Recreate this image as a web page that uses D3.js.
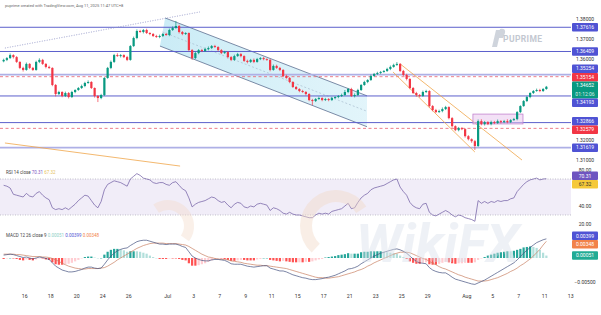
<!DOCTYPE html>
<html>
<head>
<meta charset="utf-8">
<script src="https://cdn.jsdelivr.net/npm/d3@7"></script>
<style>
  html, body { margin: 0; padding: 0; background: #fff; }
  svg { display: block; font-family: Roboto, "Liberation Sans", sans-serif; }
</style>
</head>
<body>
<div id="chart"></div>
<script>
// 6h candles, GBP/USD style, Jun 12 -> Aug 11 (4 bars per trading day)
var firstOpen = 1.3592;
var closes = [
  1.3599,1.3608,1.3623,1.3613,1.3589,1.3559,1.3549,1.3579,1.3559,1.3549,
  1.3589,1.3599,1.3579,1.3564,1.3559,1.3474,1.3429,1.3439,1.3419,1.3434,
  1.3414,1.3439,1.3449,1.3459,1.3469,1.3484,1.3489,1.3459,1.3419,1.3409,
  1.3424,1.3509,1.3559,1.3589,1.3623,1.3618,1.3623,1.3613,1.3599,1.3668,
  1.3708,1.3743,1.3738,1.3748,1.3733,1.3728,1.3718,1.3713,1.3718,1.3728,
  1.3723,1.3748,1.3758,1.3768,1.3738,1.3728,1.3733,1.3648,1.3608,1.3633,
  1.3648,1.3643,1.3653,1.3658,1.3668,1.3663,1.3648,1.3633,1.3638,1.3613,
  1.3599,1.3618,1.3628,1.3618,1.3594,1.3589,1.3599,1.3589,1.3603,1.3608,
  1.3603,1.3599,1.3549,1.3569,1.3559,1.3549,1.3519,1.3509,1.3489,1.3464,
  1.3454,1.3444,1.3439,1.3429,1.3399,1.3394,1.3404,1.3409,1.3399,1.3404,
  1.3399,1.3409,1.3414,1.3419,1.3424,1.3439,1.3454,1.3419,1.3424,1.3449,
  1.3474,1.3489,1.3499,1.3519,1.3529,1.3534,1.3539,1.3544,1.3554,1.3564,
  1.3574,1.3579,1.3544,1.3524,1.3504,1.3459,1.3434,1.3424,1.3419,1.3439,
  1.3444,1.3369,1.3349,1.3339,1.3344,1.3354,1.3364,1.3309,1.3269,1.3249,
  1.3259,1.3254,1.3219,1.3204,1.3194,1.3170,1.3294,1.3279,1.3289,1.3279,
  1.3289,1.3284,1.3294,1.3289,1.3294,1.3289,1.3299,1.3304,1.3339,1.3369,
  1.3394,1.3414,1.3434,1.3444,1.3449,1.3444,1.3454,1.34652
];
// wick lengths in pips above / below the body
var hiWick = [
  6,5,8,4,5,3,6,7,4,5, 6,8,5,4,6,3,5,6,4,7, 5,6,4,5,7,6,8,4,3,5,
  6,4,5,7,6,9,5,4,6,5, 7,8,6,5,6,4,5,6,7,5, 6,7,8,25,6,5,4,3,5,6,
  5,6,7,8,5,6,4,5,6,4, 5,7,6,5,4,6,5,7,6,5, 6,4,5,7,6,5,4,6,5,4,
  5,4,6,5,4,6,5,7,4,6, 5,6,4,5,7,10,5,6,8,6, 5,6,4,7,5,6,5,4,6,7,
  6,9,4,5,6,4,5,6,5,7, 6,4,5,6,7,8,6,4,5,4, 6,5,4,5,4,6,8,9,6,5,
  7,6,8,5,6,9,5,6,5,4, 5,6,4,5,7,6,5,4
];
var loWick = [
  5,6,4,7,5,6,8,4,6,5, 4,6,5,7,5,6,12,5,6,5, 7,5,6,4,5,6,4,5,8,20,
  6,5,4,6,5,4,7,5,6,4, 5,6,4,7,5,6,5,4,6,5, 4,6,5,4,7,6,5,6,9,5,
  6,5,4,6,5,4,6,5,4,7, 6,5,4,6,5,7,5,6,4,5, 6,5,7,4,5,6,5,4,6,5,
  5,6,4,7,6,20,5,4,6,5, 6,5,4,6,5,4,6,5,7,5, 5,4,6,5,4,5,6,4,5,6,
  4,5,6,5,7,6,5,8,6,4, 5,7,6,5,4,6,5,6,7,5, 6,5,7,6,8,20,5,6,7,5,
  6,5,4,7,5,6,5,4,6,5, 4,5,6,5,4,6,5,4
];
var rsi = [
  63,62,60,53,52,51,50,54,51,50, 54,56,52,49,47,38,36,37,36,38,
  36,39,42,46,49,52,51,46,41,38, 45,58,64,66,68,67,66,64,62,70,
  73,76,74,71,70,69,66,65,66,66, 64,63,66,67,63,59,57,49,39,42,
  44,45,46,48,50,49,46,44,45,41, 38,42,44,43,39,38,40,39,42,43,
  42,41,35,38,37,35,32,31,33,31, 30,30,29,28,27,27,30,32,31,32,
  31,34,35,36,37,40,43,37,38,44, 49,52,54,58,60,61,62,63,65,67,
  69,70,61,56,52,44,40,38,37,42, 43,33,30,29,31,33,35,33,30,28,
  30,29,27,26,25,23,46,43,45,43, 45,44,46,45,46,46,48,49,56,60,
  64,67,69,70,71,69,70,70.31
];
var macd = [
  0.0006,0.0007,0.0008,0.0007,0.0005,0.0003,0.0001,0.0002,0.0000,-0.0002,
  0.0000,0.0002,0.0001,-0.0001,-0.0003,-0.0010,-0.0017,-0.0021,-0.0025,-0.0027,
  -0.0029,-0.0029,-0.0028,-0.0026,-0.0024,-0.0021,-0.0019,-0.0019,-0.0021,-0.0022,
  -0.0021,-0.0013,-0.0004,0.0004,0.0010,0.0015,0.0018,0.0020,0.0021,0.0026,
  0.0030,0.0034,0.0036,0.0037,0.0037,0.0035,0.0033,0.0031,0.0029,0.0029,
  0.0028,0.0029,0.0029,0.0029,0.0027,0.0024,0.0022,0.0013,0.0004,0.0000,
  -0.0003,-0.0005,-0.0006,-0.0006,-0.0004,-0.0003,-0.0003,-0.0004,-0.0005,-0.0008,
  -0.0012,-0.0013,-0.0013,-0.0013,-0.0015,-0.0017,-0.0018,-0.0019,-0.0018,-0.0017,
  -0.0016,-0.0016,-0.0021,-0.0023,-0.0025,-0.0027,-0.0027,-0.0029,-0.0032,-0.0035,
  -0.0037,-0.0039,-0.0041,-0.0042,-0.0044,-0.0045,-0.0045,-0.0044,-0.0043,-0.0041,
  -0.0040,-0.0038,-0.0036,-0.0033,-0.0030,-0.0027,-0.0023,-0.0022,-0.0020,-0.0017,
  -0.0012,-0.0008,-0.0004,0.0000,0.0004,0.0007,0.0010,0.0012,0.0014,0.0016,
  0.0018,0.0019,0.0017,0.0014,0.0010,0.0004,-0.0002,-0.0007,-0.0010,-0.0011,
  -0.0012,-0.0020,-0.0025,-0.0028,-0.0030,-0.0031,-0.0031,-0.0035,-0.0040,-0.0044,
  -0.0046,-0.0048,-0.0050,-0.0052,-0.0054,-0.0055,-0.0052,-0.0049,-0.0046,-0.0042,
  -0.0038,-0.0034,-0.0030,-0.0026,-0.0022,-0.0018,-0.0014,-0.0010,-0.0004,0.0003,
  0.0010,0.0016,0.0022,0.0027,0.0032,0.0035,0.0038,0.00399
];
var signal = [
  0.0008,0.0008,0.0008,0.0008,0.0007,0.0007,0.0006,0.0005,0.0004,0.0003,
  0.0003,0.0003,0.0002,0.0002,0.0001,-0.0001,-0.0004,-0.0007,-0.0011,-0.0014,
  -0.0017,-0.0019,-0.0021,-0.0022,-0.0023,-0.0023,-0.0022,-0.0022,-0.0022,-0.0022,
  -0.0021,-0.0020,-0.0017,-0.0013,-0.0009,-0.0004,0.0000,0.0004,0.0008,0.0012,
  0.0016,0.0020,0.0023,0.0026,0.0028,0.0030,0.0031,0.0031,0.0031,0.0031,
  0.0030,0.0030,0.0030,0.0030,0.0029,0.0028,0.0027,0.0024,0.0020,0.0016,
  0.0012,0.0008,0.0005,0.0002,0.0001,-0.0001,-0.0002,-0.0003,-0.0003,-0.0004,
  -0.0006,-0.0007,-0.0008,-0.0009,-0.0011,-0.0012,-0.0013,-0.0014,-0.0015,-0.0015,
  -0.0016,-0.0016,-0.0017,-0.0018,-0.0019,-0.0020,-0.0021,-0.0022,-0.0024,-0.0026,
  -0.0028,-0.0030,-0.0032,-0.0034,-0.0036,-0.0038,-0.0040,-0.0041,-0.0041,-0.0042,
  -0.0042,-0.0041,-0.0040,-0.0039,-0.0037,-0.0035,-0.0033,-0.0031,-0.0029,-0.0026,
  -0.0024,-0.0021,-0.0017,-0.0014,-0.0010,-0.0007,-0.0004,-0.0001,0.0002,0.0005,
  0.0008,0.0010,0.0012,0.0012,0.0012,0.0011,0.0008,0.0005,0.0002,-0.0001,
  -0.0003,-0.0007,-0.0011,-0.0014,-0.0018,-0.0021,-0.0023,-0.0026,-0.0029,-0.0032,
  -0.0035,-0.0037,-0.0040,-0.0042,-0.0044,-0.0046,-0.0048,-0.0048,-0.0048,-0.0047,
  -0.0045,-0.0043,-0.0041,-0.0038,-0.0035,-0.0032,-0.0028,-0.0025,-0.0021,-0.0016,
  -0.0012,-0.0007,-0.0002,0.0004,0.0011,0.0018,0.0027,0.00348
];

// day labels and the bar where each day starts
var tickBars = [7,15,23,31,39,51,59,67,75,83,91,99,107,115,123,131,143,151,159,167,175];
var tickLabels = ["16","18","20","24","26","Jul","3","7","9","11","15","17","21","23","25","29","Aug","5","7","11","13"];

var priceTicks = [1.31,1.32,1.33,1.34,1.35,1.36,1.37,1.38];
var rsiTicks = [20,40,60,80];
var macdTicks = [-0.005,0,0.005];

// horizontal levels drawn on the chart
var blueLevels = [1.37616,1.36409,1.35254,1.34193,1.32866,1.31619];
var softLevels = [1.35254,1.31619];
var redLevels = [1.35154,1.32579];

// drawings: [bar, price] anchors
var channelUpper = [[50.2,1.3808],[112.3,1.3420]];
var channelLower = [[48.6,1.3668],[112.3,1.3266]];
var dottedTrend = [[0.9,1.3658],[60.9,1.3838]];
var orangeLines = [
  [[122.5,1.3579],[160,1.3100]],
  [[120.3,1.3539],[145.5,1.3140]],
  [[0.9,1.3185],[54.8,1.3070]]
];
var rangeBox = [[144.9,1.3329],[160.3,1.3280]];
var rsiMA = 67.32;
var countdown = "01:12:06";

var width = 601, height = 315;
var plotRight = 571;

var svg = d3.select("#chart").append("svg")
    .attr("width", width)
    .attr("height", height);

var x = d3.scaleLinear().domain([0, 172]).range([2, 2 + 172 * 3.25]);
var y = d3.scaleLinear().domain([1.31, 1.38]).range([160.05, 19.56]);
var yR = d3.scaleLinear().domain([20, 80]).range([224, 170]);
var yM = d3.scaleLinear().domain([-0.005, 0.005]).range([282, 234]);

var defs = svg.append("defs");
defs.append("clipPath").attr("id", "clipMain")
    .append("rect").attr("x", 0).attr("y", 9).attr("width", plotRight).attr("height", 159);
defs.append("clipPath").attr("id", "clipRsi")
    .append("rect").attr("x", 0).attr("y", 164).attr("width", plotRight).attr("height", 64);
defs.append("clipPath").attr("id", "clipMacd")
    .append("rect").attr("x", 0).attr("y", 229).attr("width", plotRight).attr("height", 60);

var grad = defs.append("linearGradient").attr("id", "chanFill")
    .attr("x1", "0%").attr("x2", "100%").attr("y1", "0%").attr("y2", "0%");
grad.append("stop").attr("offset", "0%").attr("stop-color", "#9fdcef").attr("stop-opacity", 0.55);
grad.append("stop").attr("offset", "100%").attr("stop-color", "#bfe8f5").attr("stop-opacity", 0.45);

svg.append("rect").attr("width", width).attr("height", height).attr("fill", "#fff");

// PU Prime watermark
var wm = svg.append("g").attr("fill", "#cfd4dc");
wm.append("path").attr("d", "M492,47 L496,30 L501,30 L497,47 Z");
wm.append("path").attr("d", "M498,38 L500,29 Q506,28 505,33 L503,38 Z");
wm.append("text").attr("x", 503).attr("y", 42).attr("font-size", 8.5)
    .attr("font-weight", "bold").attr("letter-spacing", 0.4).attr("fill", "#c3c8d1")
    .text("PUPRIME");

var main = svg.append("g").attr("clip-path", "url(#clipMain)");

// channel
var chanPts = [channelUpper[0], channelUpper[1], channelLower[1], channelLower[0]];
main.append("path")
    .attr("d", "M" + chanPts.map(function (p) { return x(p[0]) + "," + y(p[1]); }).join("L") + "Z")
    .attr("fill", "url(#chanFill)");
[channelUpper, channelLower].forEach(function (ln) {
    main.append("line")
        .attr("x1", x(ln[0][0])).attr("y1", y(ln[0][1]))
        .attr("x2", x(ln[1][0])).attr("y2", y(ln[1][1]))
        .attr("stroke", "#5d6f90").attr("stroke-width", 0.8);
});
main.append("line")
    .attr("x1", x((channelUpper[0][0] + channelLower[0][0]) / 2))
    .attr("y1", y((channelUpper[0][1] + channelLower[0][1]) / 2))
    .attr("x2", x(channelUpper[1][0]))
    .attr("y2", y((channelUpper[1][1] + channelLower[1][1]) / 2))
    .attr("stroke", "#9fb4c8").attr("stroke-width", 0.6).attr("stroke-dasharray", "2,2");

// levels
blueLevels.forEach(function (v) {
    var soft = softLevels.indexOf(v) >= 0;
    main.append("line")
        .attr("x1", 0).attr("x2", plotRight).attr("y1", y(v)).attr("y2", y(v))
        .attr("stroke", soft ? "#aeb0e6" : "#5c60cc")
        .attr("stroke-width", soft ? 1.6 : 1);
});
redLevels.forEach(function (v) {
    main.append("line")
        .attr("x1", 0).attr("x2", plotRight).attr("y1", y(v)).attr("y2", y(v))
        .attr("stroke", "#e8606f").attr("stroke-width", 0.8).attr("stroke-dasharray", "3,2.5");
});

// trend lines
main.append("line")
    .attr("x1", x(dottedTrend[0][0])).attr("y1", y(dottedTrend[0][1]))
    .attr("x2", x(dottedTrend[1][0])).attr("y2", y(dottedTrend[1][1]))
    .attr("stroke", "#8c90c4").attr("stroke-width", 0.8).attr("stroke-dasharray", "1,1.5");
orangeLines.forEach(function (ln) {
    main.append("line")
        .attr("x1", x(ln[0][0])).attr("y1", y(ln[0][1]))
        .attr("x2", x(ln[1][0])).attr("y2", y(ln[1][1]))
        .attr("stroke", "#f0a64a").attr("stroke-width", 0.8);
});

main.append("rect")
    .attr("x", x(rangeBox[0][0])).attr("y", y(rangeBox[0][1]))
    .attr("width", x(rangeBox[1][0]) - x(rangeBox[0][0]))
    .attr("height", y(rangeBox[1][1]) - y(rangeBox[0][1]))
    .attr("fill", "#e9c8ee").attr("fill-opacity", 0.55)
    .attr("stroke", "#c283cf").attr("stroke-width", 0.8);

// candles
var bars = closes.map(function (c, i) {
    var o = i === 0 ? firstOpen : closes[i - 1];
    return {
        i: i, o: o, c: c,
        h: Math.max(o, c) + hiWick[i] * 1e-4,
        l: Math.min(o, c) - loWick[i] * 1e-4
    };
});
var up = "#089981", down = "#f23645";
var candle = main.append("g").selectAll("g").data(bars).enter().append("g")
    .attr("fill", function (d) { return d.c >= d.o ? up : down; })
    .attr("stroke", function (d) { return d.c >= d.o ? up : down; });
candle.append("line")
    .attr("x1", function (d) { return x(d.i + 0.5); })
    .attr("x2", function (d) { return x(d.i + 0.5); })
    .attr("y1", function (d) { return y(d.h); })
    .attr("y2", function (d) { return y(d.l); })
    .attr("stroke-width", 0.7);
candle.append("rect")
    .attr("x", function (d) { return x(d.i + 0.5) - 1.1; })
    .attr("width", 2.2)
    .attr("y", function (d) { return y(Math.max(d.o, d.c)); })
    .attr("height", function (d) { return Math.max(0.7, Math.abs(y(d.o) - y(d.c))); })
    .attr("stroke", "none");

// RSI pane
var rp = svg.append("g").attr("clip-path", "url(#clipRsi)");
rp.append("rect").attr("x", 0).attr("width", plotRight)
    .attr("y", yR(70)).attr("height", yR(30) - yR(70))
    .attr("fill", "#7e57c2").attr("fill-opacity", 0.11);
[70, 30].forEach(function (v) {
    rp.append("line").attr("x1", 0).attr("x2", plotRight).attr("y1", yR(v)).attr("y2", yR(v))
        .attr("stroke", "#9a9aaa").attr("stroke-width", 0.6).attr("stroke-dasharray", "1,1.5");
});
rp.append("path").datum(rsi)
    .attr("d", d3.line().x(function (d, i) { return x(i + 0.5); }).y(function (d) { return yR(d); }))
    .attr("fill", "none").attr("stroke", "#7462a6").attr("stroke-width", 0.75);

// MACD pane
var mp = svg.append("g").attr("clip-path", "url(#clipMacd)");
var hist = macd.map(function (m, i) { return m - signal[i]; });
mp.append("g").selectAll("rect").data(hist).enter().append("rect")
    .attr("x", function (d, i) { return x(i + 0.5) - 1.1; })
    .attr("width", 2.2)
    .attr("y", function (d) { return Math.min(yM(d), yM(0)); })
    .attr("height", function (d) { return Math.max(0.4, Math.abs(yM(d) - yM(0))); })
    .attr("fill", function (d, i) {
        var prev = i === 0 ? d : hist[i - 1];
        if (d >= 0) return d >= prev ? "#26a69a" : "#b2dfdb";
        return d <= prev ? "#ff5252" : "#ffcdd2";
    });
var mline = d3.line().x(function (d, i) { return x(i + 0.5); }).y(function (d) { return yM(d); });
mp.append("path").datum(signal).attr("d", mline)
    .attr("fill", "none").attr("stroke", "#c98062").attr("stroke-width", 0.7);
mp.append("path").datum(macd).attr("d", mline)
    .attr("fill", "none").attr("stroke", "#44507e").attr("stroke-width", 0.7);

// WikiFX watermark
var wk = svg.append("g").attr("opacity", 0.42);
wk.append("path")
    .attr("transform", "translate(336,226)")
    .attr("d", d3.arc().innerRadius(24).outerRadius(36).startAngle(-2.4).endAngle(1.0)())
    .attr("fill", "#f2d9c6");
wk.append("path")
    .attr("transform", "translate(168,226)")
    .attr("d", d3.arc().innerRadius(16).outerRadius(26).startAngle(-0.6).endAngle(2.2)())
    .attr("fill", "#f4dccb");
wk.append("text").attr("x", 356).attr("y", 262)
    .attr("font-size", 54).attr("font-weight", "bold").attr("font-style", "italic")
    .attr("fill", "#d9e0ea").text("WikiFX");

// value boxes on the right, pushed apart when they overlap
function spread(items) {
    items.sort(function (a, b) { return a.y - b.y; });
    for (var k = 0; k < 40; k++) {
        for (var j = 1; j < items.length; j++) {
            var a = items[j - 1], b = items[j];
            var need = (a.h + b.h) / 2, gap = b.y - a.y;
            if (gap < need) { a.y -= (need - gap) / 2; b.y += (need - gap) / 2; }
        }
    }
    return items;
}
var bh = 8.5, fmt5 = d3.format(".5f");
var lastPrice = closes[closes.length - 1];
var mainItems = blueLevels.map(function (v) { return { y: y(v), h: bh, rows: [fmt5(v)], fill: "#4f53d4" }; })
    .concat(redLevels.map(function (v) { return { y: y(v), h: bh, rows: [fmt5(v)], fill: "#f23645" }; }))
    .concat([{ y: y(lastPrice) + bh / 2, h: bh * 2, rows: [fmt5(lastPrice), countdown], fill: "#089981" }]);
var last = rsi.length - 1;
var rsiItems = [
    { y: yR(rsi[last]), h: bh, rows: [rsi[last].toFixed(2)], fill: "#6e55c0" },
    { y: yR(rsiMA), h: bh, rows: [rsiMA.toFixed(2)], fill: "#f5c93a", text: "#333" }
];
var macdItems = [
    { y: yM(macd[last]), h: bh, rows: [fmt5(macd[last])], fill: "#4f53d4" },
    { y: yM(signal[last]), h: bh, rows: [fmt5(signal[last])], fill: "#f2834a" },
    { y: yM(hist[last]), h: bh, rows: [fmt5(hist[last])], fill: "#22ab94" }
];
var allBoxes = [];
[mainItems, rsiItems, macdItems].forEach(function (items) {
    spread(items).forEach(function (it) { allBoxes.push(it); });
});

// axis text, skipping ticks that sit under a value box (as the platform does)
var axis = svg.append("g").attr("font-size", 5).attr("fill", "#333");
function covered(ty) {
    return allBoxes.some(function (b) { return Math.abs(ty - b.y) < b.h / 2 + 1.0; });
}
function axisLabels(ticks, scale, fmt) {
    ticks.forEach(function (v) {
        if (covered(scale(v))) return;
        axis.append("text").attr("x", 585).attr("y", scale(v)).attr("dy", "0.35em")
            .attr("text-anchor", "middle").text(fmt(v));
    });
}
axisLabels(priceTicks, y, d3.format(".5f"));
axisLabels(rsiTicks, yR, d3.format(".2f"));
axisLabels(macdTicks, yM, d3.format(".5f"));

tickBars.forEach(function (b, k) {
    axis.append("text").attr("x", x(b)).attr("y", 298)
        .attr("text-anchor", "middle").attr("font-size", 5.2).text(tickLabels[k]);
});

allBoxes.forEach(function (it) {
    var g = svg.append("g");
    g.append("rect").attr("x", 572).attr("y", it.y - it.h / 2)
        .attr("width", 26).attr("height", it.h).attr("rx", 1).attr("fill", it.fill);
    it.rows.forEach(function (r, k) {
        g.append("text").attr("x", 585).attr("y", it.y - it.h / 2 + bh * k + bh / 2)
            .attr("dy", "0.35em").attr("text-anchor", "middle").attr("font-size", 5)
            .attr("fill", it.text || "#fff").attr("fill-opacity", k ? 0.85 : 1).text(r);
    });
});

// titles and legends
svg.append("text").attr("x", 5).attr("y", 6.5).attr("font-size", 4).attr("fill", "#666")
    .text("puprime created with TradingView.com, Aug 11, 2025 11:47 UTC+8");

var rl = svg.append("text").attr("x", 6).attr("y", 173.5).attr("font-size", 4.5).attr("fill", "#444");
rl.append("tspan").text("RSI 14 close ");
rl.append("tspan").attr("fill", "#7e57c2").text(rsi[last].toFixed(2) + " ");
rl.append("tspan").attr("fill", "#e6c25a").text(rsiMA.toFixed(2));

var ml = svg.append("text").attr("x", 6).attr("y", 236.5).attr("font-size", 4.5).attr("fill", "#444");
ml.append("tspan").text("MACD 12 26 close 9 ");
ml.append("tspan").attr("fill", "#8fcfc6").text(fmt5(hist[last]) + " ");
ml.append("tspan").attr("fill", "#4f53d4").text(fmt5(macd[last]) + " ");
ml.append("tspan").attr("fill", "#f2834a").text(fmt5(signal[last]));
</script>
</body>
</html>
